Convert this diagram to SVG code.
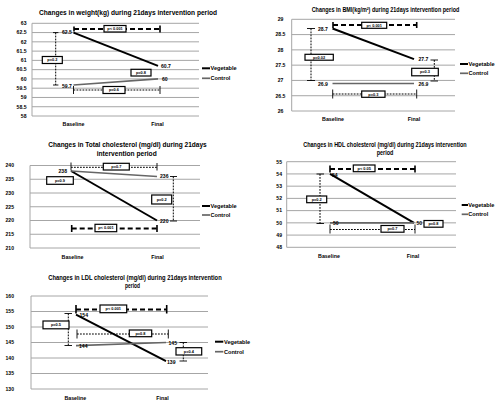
<svg xmlns="http://www.w3.org/2000/svg" width="500" height="404" viewBox="0 0 500 404">
<style>
text{font-family:"Liberation Sans",Arial,sans-serif;font-weight:bold;fill:#000}
.title{font-size:6.3px;text-anchor:middle}
.yl{font-size:5.1px;text-anchor:end}
.cat{font-size:5.3px;text-anchor:middle}
.dl{font-size:5.1px}
.lg{font-size:5.6px}
.bt{font-size:3.9px;text-anchor:middle}
.grid{fill:none;stroke:#a6a6a6;stroke-width:1}
.veg{fill:none;stroke:#000;stroke-width:2}
.ctl{fill:none;stroke:#666;stroke-width:1.7}
.sig{fill:none;stroke:#000;stroke-width:2}
.sig{stroke-dasharray:5 3}
.ns{fill:none;stroke:#000;stroke-width:1;stroke-dasharray:1.8 1.2}
.capb{fill:none;stroke:#000;stroke-width:1.6}
.cap{fill:none;stroke:#000;stroke-width:0.9}
.box{fill:#fff;stroke:#000;stroke-width:1.2}
</style>
<rect width="500" height="404" fill="#fff"/>

<!-- Panel 1: weight -->
<g id="chart-weight">
<text class="title" x="128" y="15" textLength="178" lengthAdjust="spacingAndGlyphs">Changes in weight(kg) during 21days intervention period</text>
<path class="grid" d="M32 23.3H199M32 32.57H199M32 41.84H199M32 51.11H199M32 60.38H199M32 69.65H199M32 78.92H199M32 88.19H199M32 97.46H199M32 106.73H199M32 116H199M32 23.3V116"/>
<g class="yl">
<text x="26.5" y="25.1">63</text><text x="26.5" y="34.4">62.5</text><text x="26.5" y="43.6">62</text><text x="26.5" y="52.9">61.5</text><text x="26.5" y="62.2">61</text><text x="26.5" y="71.4">60.5</text><text x="26.5" y="80.7">60</text><text x="26.5" y="90">59.5</text><text x="26.5" y="99.3">59</text><text x="26.5" y="108.5">58.5</text><text x="26.5" y="117.8">58</text>
</g>
<text class="cat" x="73.5" y="125.5">Baseline</text>
<text class="cat" x="157.5" y="125.5">Final</text>
<g id="weight-series">
<path class="veg" d="M73.5 32.6L158 65.9"/>
<path class="ctl" d="M73.5 85L158 78.9"/>
</g>
<text class="dl" x="62" y="34.3">62.5</text>
<text class="dl" x="62" y="87.5">59.7</text>
<text class="dl" x="161" y="67.6">60.7</text>
<text class="dl" x="162" y="80.6">60</text>
<g id="weight-connectors">
<path class="sig" d="M74 29H160"/><path class="capb" d="M74 26.5V31.5M160 25.5V32.5"/>
<path class="ns" d="M55.7 32.6V85"/><path class="cap" d="M53 32.6H58.4M53 85H58.4"/>
<path class="ns" d="M73.5 90H160"/><path class="cap" d="M73.5 86V94M160 86V94"/>
</g>
<g id="weight-p-sig"><rect class="box" x="104" y="25.5" width="22" height="6.5"/><text class="bt" x="115" y="30.1">p&lt; 0.001</text></g>
<g id="weight-p-base"><rect class="box" x="42.3" y="56.5" width="20" height="7"/><text class="bt" x="52.3" y="61.4">p=0.2</text></g>
<g id="weight-p-final"><rect class="box" x="131" y="69.3" width="20" height="6.7"/><text class="bt" x="141" y="74.1">p=0.8</text></g>
<g id="weight-p-ctl"><rect class="box" x="103" y="86.5" width="22" height="7"/><text class="bt" x="114" y="91.4">p=0.6</text></g>
<g id="weight-legend">
<path class="veg" d="M202 68.3H210"/><text class="lg" x="210.5" y="70.3">Vegetable</text>
<path class="ctl" d="M202 78.3H210"/><text class="lg" x="210.5" y="80.3">Control</text>
</g>
</g>

<!-- Panel 2: BMI -->
<g id="chart-bmi">
<text class="title" x="385.5" y="11.5" textLength="147.6" lengthAdjust="spacingAndGlyphs">Changes in BMI(kg/m²) during 21days intervention period</text>
<path class="grid" d="M291.7 19.3H455M291.7 34.58H455M291.7 49.87H455M291.7 65.15H455M291.7 80.43H455M291.7 95.72H455M291.7 111H455M291.7 19.3V111"/>
<g class="yl" style="text-anchor:middle">
<text x="280.5" y="21.1">29</text><text x="280.5" y="36.4">28.5</text><text x="280.5" y="51.7">28</text><text x="280.5" y="67">27.5</text><text x="280.5" y="82.2">27</text><text x="280.5" y="97.5">26.5</text><text x="280.5" y="112.8">26</text>
</g>
<text class="cat" x="333" y="120.5">Baseline</text>
<text class="cat" x="414" y="120.5">Final</text>
<g id="bmi-series">
<path class="veg" d="M332.5 28.5L414 59.1"/>
<path class="ctl" d="M332.5 83.5H414"/>
</g>
<text class="dl" x="318" y="30.5">28.7</text>
<text class="dl" x="318" y="86">26.9</text>
<text class="dl" x="418.5" y="61">27.7</text>
<text class="dl" x="418.5" y="86">26.9</text>
<g id="bmi-connectors">
<path class="sig" d="M333 25H416.7"/><path class="capb" d="M333 22V28M416.7 22V28"/>
<path class="ns" d="M311 28.5V80.5"/><path class="cap" d="M307 28.5H315M307 80.5H315"/>
<path class="ns" d="M434.3 60V81"/><path class="cap" d="M430.5 60H438M430.5 81H438"/>
<path class="ns" d="M332.7 94H416.7"/><path class="cap" d="M332.7 89.5V98.5M416.7 89.5V98.5"/>
</g>
<g id="bmi-p-sig"><rect class="box" x="361.7" y="22.3" width="25" height="6"/><text class="bt" x="374.2" y="26.7">p&lt; 0.001</text></g>
<g id="bmi-p-base"><rect class="box" x="305" y="54.3" width="28.3" height="5.9"/><text class="bt" x="319.1" y="58.7">p=0.02</text></g>
<g id="bmi-p-final"><rect class="box" x="411.7" y="68.3" width="26.6" height="7.5"/><text class="bt" x="425" y="73.4">p=0.3</text></g>
<g id="bmi-p-ctl"><rect class="box" x="361.7" y="91" width="23.3" height="6.3"/><text class="bt" x="373.3" y="95.5">p=0.3</text></g>
<g id="bmi-legend">
<path class="veg" d="M460 64H468"/><text class="lg" x="468.5" y="66">Vegetable</text>
<path class="ctl" d="M460 73.3H468"/><text class="lg" x="468.5" y="75.3">Control</text>
</g>
</g>

<!-- Panel 3: Total cholesterol -->
<g id="chart-total-cholesterol">
<text class="title" x="127.5" y="147" textLength="158.4" lengthAdjust="spacingAndGlyphs">Changes in Total cholesterol (mg/dl) during 21days</text>
<text class="title" x="126.7" y="156" textLength="60" lengthAdjust="spacingAndGlyphs">intervention period</text>
<path class="grid" d="M30 165.5H200M30 179.25H200M30 193H200M30 206.75H200M30 220.5H200M30 234.25H200M30 248H200M30 165.5V248"/>
<g class="yl">
<text x="14" y="167.3">240</text><text x="14" y="181">235</text><text x="14" y="194.8">230</text><text x="14" y="208.5">225</text><text x="14" y="222.3">220</text><text x="14" y="236">215</text><text x="14" y="249.8">210</text>
</g>
<text class="cat" x="72.5" y="259">Baseline</text>
<text class="cat" x="157.5" y="259">Final</text>
<g id="tc-series">
<path class="veg" d="M71 171L157 220.5"/>
<path class="ctl" d="M71 171L157 176.5"/>
</g>
<text class="dl" x="58.5" y="172.5">238</text>
<text class="dl" x="160" y="178">236</text>
<text class="dl" x="160" y="222.5">220</text>
<g id="tc-connectors">
<path class="ns" d="M71 167.3H157"/><path class="cap" d="M71 162.5V170.5M157 163V170.5"/>
<path class="ns" d="M173.3 176.5V221"/><path class="cap" d="M170 176.5H177M170 221H177"/>
<path class="sig" d="M71.7 228.5H157"/><path class="capb" d="M71.7 225V232M157 225V232"/>
</g>
<g id="tc-p-ctl"><rect class="box" x="103.3" y="163.3" width="26" height="6.7"/><text class="bt" x="116.3" y="168.1">p=0.7</text></g>
<g id="tc-p-base"><rect class="box" x="46.7" y="176.7" width="26.6" height="7.6"/><text class="bt" x="60" y="181.9">p=0.9</text></g>
<g id="tc-p-final"><rect class="box" x="151.7" y="195" width="20" height="9"/><text class="bt" x="161.7" y="200.9">p=0.2</text></g>
<g id="tc-p-sig"><rect class="box" x="95" y="224.3" width="21.7" height="7.4"/><text class="bt" x="105.9" y="229.4">p&lt; 0.001</text></g>
<g id="tc-legend">
<path class="veg" d="M202 206H210"/><text class="lg" x="210.5" y="208">Vegetable</text>
<path class="ctl" d="M202 215H210"/><text class="lg" x="210.5" y="217">Control</text>
</g>
</g>

<!-- Panel 4: HDL -->
<g id="chart-hdl">
<text class="title" x="385" y="147" textLength="163.4" lengthAdjust="spacingAndGlyphs">Changes in HDL cholesterol (mg/dl) during 21days intervention</text>
<text class="title" x="385" y="154.5" textLength="16.6" lengthAdjust="spacingAndGlyphs">period</text>
<path class="grid" d="M286.7 161.7H456M286.7 173.93H456M286.7 186.16H456M286.7 198.39H456M286.7 210.62H456M286.7 222.85H456M286.7 235.08H456M286.7 247.3H456M286.7 161.7V247.3"/>
<g class="yl">
<text x="282" y="163.5">55</text><text x="282" y="175.7">54</text><text x="282" y="188">53</text><text x="282" y="200.2">52</text><text x="282" y="212.4">51</text><text x="282" y="224.6">50</text><text x="282" y="236.9">49</text><text x="282" y="249.1">48</text>
</g>
<text class="cat" x="329" y="258">Baseline</text>
<text class="cat" x="413" y="258">Final</text>
<g id="hdl-series">
<path class="veg" d="M330 173.9L414 222.9"/>
<path class="ctl" d="M330 222.9H414"/>
</g>
<text class="dl" x="332" y="176.5">54</text>
<text class="dl" x="333" y="225">50</text>
<text class="dl" x="416.5" y="225">50</text>
<g id="hdl-connectors">
<path class="ns" d="M320 174V223.5"/><path class="cap" d="M316.5 174H324M316.5 223.5H324"/>
<path class="sig" d="M330 169H415"/><path class="capb" d="M330 165.5V172.5M415 165.5V172.5"/>
<path class="ns" d="M330 229.5H415"/><path class="cap" d="M330 224.5V233.5M415 224.5V233.5"/>
</g>
<g id="hdl-p-base"><rect class="box" x="306.7" y="196" width="20" height="6.7"/><text class="bt" x="316.7" y="200.7">p=0.2</text></g>
<g id="hdl-p-sig"><rect class="box" x="353.3" y="165" width="21.7" height="6.7"/><text class="bt" x="364.2" y="169.7">p&lt; 0.05</text></g>
<g id="hdl-p-ctl"><rect class="box" x="381" y="225.5" width="23" height="6.7"/><text class="bt" x="392.5" y="230.2">p=0.7</text></g>
<g id="hdl-p-final"><rect class="box" x="424" y="220.5" width="19" height="6.7"/><text class="bt" x="433.5" y="225.2">p=0.8</text></g>
<g id="hdl-legend">
<path class="veg" d="M461.7 205H468"/><text class="lg" x="468.3" y="207">Vegetable</text>
<path class="ctl" d="M461.7 214.3H468"/><text class="lg" x="468.3" y="216.3">Control</text>
</g>
</g>

<!-- Panel 5: LDL -->
<g id="chart-ldl">
<text class="title" x="135" y="280" textLength="173.4" lengthAdjust="spacingAndGlyphs">Changes in LDL cholesterol (mg/dl) during 21days intervention</text>
<text class="title" x="132.5" y="288" textLength="15" lengthAdjust="spacingAndGlyphs">period</text>
<path class="grid" d="M31 296H208M31 311.5H208M31 327H208M31 342.5H208M31 358H208M31 373.5H208M31 389H208M31 296V389"/>
<g class="yl">
<text x="14" y="297.8">160</text><text x="14" y="313.3">155</text><text x="14" y="328.8">150</text><text x="14" y="344.3">145</text><text x="14" y="359.8">140</text><text x="14" y="375.3">135</text><text x="14" y="390.8">130</text>
</g>
<text class="cat" x="75.3" y="400">Baseline</text>
<text class="cat" x="162.5" y="400">Final</text>
<g id="ldl-series">
<path class="veg" d="M76 314.6L166 361.1"/>
<path class="ctl" d="M76 345.6L166 342.5"/>
</g>
<text class="dl" x="79.5" y="316.5">154</text>
<text class="dl" x="79" y="348">144</text>
<text class="dl" x="168.5" y="344.5">145</text>
<text class="dl" x="167" y="363.5">139</text>
<g id="ldl-connectors">
<path class="ns" d="M68.3 313.5V345.5"/><path class="cap" d="M64.5 313.5H72M64.5 345.5H72"/>
<path class="sig" d="M76 309.5H166.7"/><path class="capb" d="M76 305V313.5M166.7 305V313.5"/>
<path class="ns" d="M77 334H168.3"/><path class="cap" d="M77 329.5V338.5M168.3 329.5V338.5"/>
<path class="ns" d="M183.3 342.5V361"/><path class="cap" d="M179.5 342.5H187M179.5 361H187"/>
</g>
<g id="ldl-p-base"><rect class="box" x="43" y="321" width="26" height="7.8"/><text class="bt" x="56" y="326.3">p=0.5</text></g>
<g id="ldl-p-sig"><rect class="box" x="100" y="305" width="26.7" height="7.7"/><text class="bt" x="113.3" y="310.2">p&lt; 0.001</text></g>
<g id="ldl-p-ctl"><rect class="box" x="129.3" y="330" width="22.4" height="6.7"/><text class="bt" x="140.5" y="334.7">p=0.8</text></g>
<g id="ldl-p-final"><rect class="box" x="176" y="347.7" width="25.7" height="7.3"/><text class="bt" x="188.8" y="352.7">p=0.4</text></g>
<g id="ldl-legend">
<path class="veg" d="M215 341.7H223.3"/><text class="lg" x="224" y="343.7">Vegetable</text>
<path class="ctl" d="M215 351.7H223.3"/><text class="lg" x="224" y="353.7">Control</text>
</g>
</g>
</svg>
